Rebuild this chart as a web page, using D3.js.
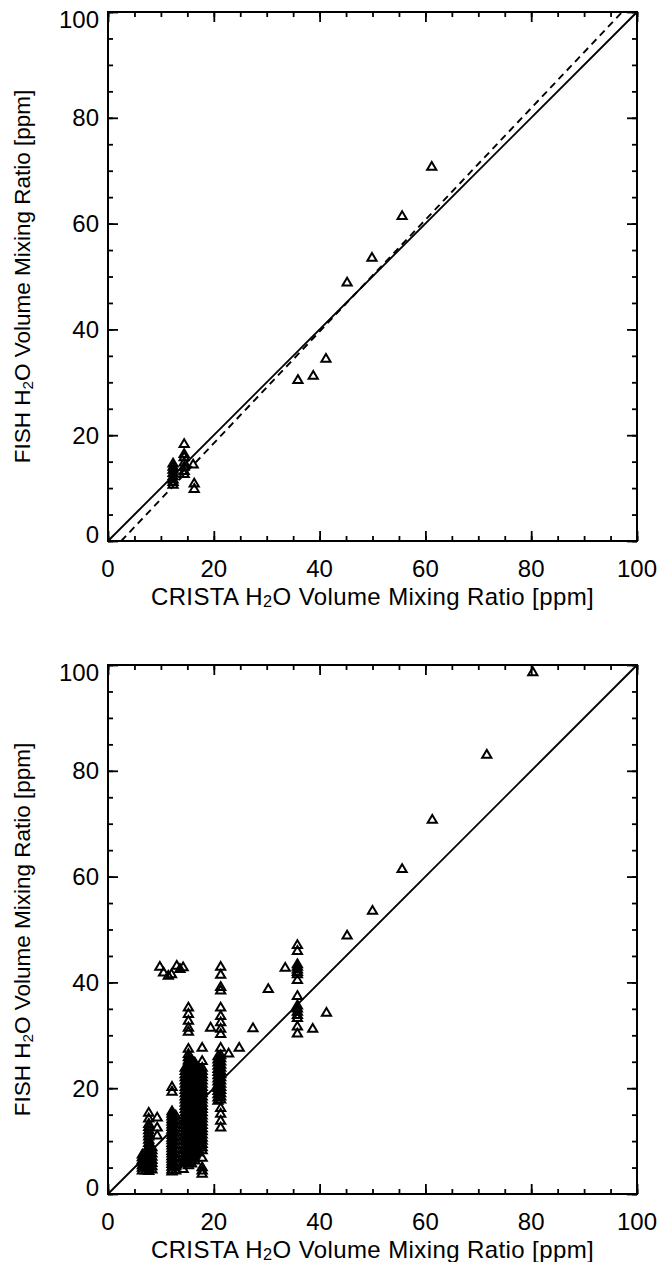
<!DOCTYPE html>
<html><head><meta charset="utf-8">
<script src="https://cdn.jsdelivr.net/npm/d3@7"></script>
<style>
body{margin:0;background:#fff}
svg{display:block}
text{font-family:"Liberation Sans",Arial,Helvetica,sans-serif;fill:#000}
</style>
</head><body>
<svg id="chart" width="670" height="1262"></svg>
<script>
// ---------- axis ticks ----------
const majorTicks = [0, 20, 40, 60, 80, 100];
const minorTicks = [0,5,10,15,20,25,30,35,40,45,50,55,60,65,70,75,80,85,90,95,100];
const tickLabels = ["0", "20", "40", "60", "80", "100"];

// ---------- top panel data ----------
const topCrista = [12.3,12.3,12.3,12.3,12.3,12.3,12.3,12.3,
                   14.4,14.4,14.4,14.4,14.4,14.4,14.4,
                   16.1,16.3,16.3,
                   35.9,38.8,41.2,45.2,49.9,55.6,61.2];
const topFish   = [14.8,14.2,13.6,13.0,12.4,11.8,11.3,10.8,
                   18.5,16.6,16.0,15.0,14.2,13.4,12.8,
                   14.6,11.0,10.0,
                   30.6,31.4,34.6,49.0,53.7,61.6,70.9];
// regression line endpoints (dashed)
const fitX = [2.5, 97.2];
const fitY = [0, 100];
// 1:1 line
const oneX = [0, 100];
const oneY = [0, 100];

// ---------- bottom panel data ----------
const bottomColumnsX = [6.5, 7.1, 7.7, 8.3, 9.3, 12.1, 12.8, 14.2, 14.6, 15.2, 15.8, 16.4, 17.1, 17.8, 20.8, 21.3, 35.8];
const bottomColumnsY = [
  [7.6,7.1,6.6,6.1,5.6,5.1,4.6],
  [7.0,6.4,5.8,5.2,4.6],
  [15.5,14.4,13.4,12.8,12.2,11.6,11.0,10.4,9.8,9.2,8.6,8.0,7.4,6.8,6.2,5.6,5.0,4.5],
  [9.0,8.4,7.8,7.2,6.6,6.0,5.4,4.8],
  [14.6,12.7,11.2],
  [20.4,19.5,15.8,15.3,14.8,14.3,13.8,13.3,12.8,12.3,11.8,11.3,10.8,10.3,9.8,9.3,8.8,8.3,7.8,7.3,6.8,6.3,5.8,5.3,4.8,4.4],
  [15.0,14.2,13.4,12.6,11.8,11.0,10.2,9.4,8.6,7.8,7.0,6.2,5.4,4.6],
  [7.0,5.9,4.9],
  [24.0,23.4,22.8,22.2,21.6,21.0,20.4,19.8,19.2,18.6,18.0,17.4,16.8,16.2,15.6,15.0,14.4,13.8,13.2,12.6,12.0,11.4,10.8,10.2,9.6,9.0,8.4,7.8,7.2,6.6,6.0],
  [35.4,34.2,32.9,31.6,30.8,27.6,26.6,26.0,25.4,24.8,24.2,23.6,23.0,22.4,21.8,21.2,20.6,20.0,19.4,18.8,18.2,17.6,17.0,16.4,15.8,15.2,14.6,14.0,13.4,12.8,12.2,11.6,11.0,10.4,9.8,9.2,8.6,8.0,7.4,6.8,6.2,5.6],
  [25.5,24.8,24.1,23.4,22.7,22.0,21.3,20.6,19.9,19.2,18.5,17.8,17.1,16.4,15.7,15.0,14.3,13.6,12.9,12.2,11.5,10.8,10.1,9.4,8.7,8.0,7.3,6.6,5.9],
  [25.0,24.4,23.8,23.2,22.6,22.0,21.4,20.8,20.2,19.6,19.0,18.4,17.8,17.2,16.6,16.0,15.4,14.8,14.2,13.6,13.0,12.4,11.8,11.2,10.6,10.0,9.4,8.8,8.2,7.6,7.0,6.5],
  [24.0,23.3,22.6,21.9,21.2,20.5,19.8,19.1,18.4,17.7,17.0,16.3,15.6,14.9,14.2,13.5,12.8,12.1,11.4,10.7,10.0,9.3,8.6,8.0],
  [27.8,25.3,24.0,23.4,22.8,22.2,21.6,21.0,20.4,19.8,19.2,18.6,18.0,17.4,16.8,16.2,15.6,15.0,14.4,13.8,13.2,12.6,12.0,11.4,10.8,10.2,9.6,9.0,8.4,7.0,5.2,4.6,4.0],
  [26.2,25.6,25.0,24.4,23.8,23.2,22.6,22.0,21.4,20.8,20.2,19.6,19.0,18.4,17.8],
  [43.1,41.6,39.3,38.6,35.4,33.8,32.6,31.4,30.4,27.8,26.4,25.8,25.2,24.6,24.0,23.4,22.8,22.2,21.6,21.0,20.4,19.8,19.2,18.6,18.0,16.4,15.3,14.0,12.7],
  [47.2,46.1,43.6,43.1,42.6,42.1,41.7,40.6,37.6,35.8,35.2,34.6,34.0,33.4,31.8,30.5]
];
const bottomSparseX = [9.8,10.5,11.4,12.0,13.0,13.6,14.2,19.4,22.8,24.8,27.4,30.3,33.5,38.7,41.3,45.2,50.0,55.6,61.3,71.6,80.3];
const bottomSparseY = [43.1,42.0,41.4,41.7,43.3,42.7,43.0,31.6,26.7,27.8,31.5,38.9,42.9,31.4,34.4,49.0,53.7,61.6,70.9,83.2,98.8];

const xTitle = "CRISTA";
const yTitle = "FISH";

// ---------- build point lists ----------
const topPoints = topCrista.map((c, i) => [c, topFish[i]]);
const bottomPoints = [];
bottomColumnsX.forEach((c, i) => bottomColumnsY[i].forEach(f => bottomPoints.push([c, f])));
bottomSparseX.forEach((c, i) => bottomPoints.push([c, bottomSparseY[i]]));

const svg = d3.select("#chart");
const TICKFONT = 24;

function addTitle(sel, name, size) {
  sel.append("tspan").text(name + " H");
  sel.append("tspan").attr("font-size", size * 0.68).attr("dy", 5).text("2");
  sel.append("tspan").attr("dy", -5).text("O Volume Mixing Ratio [ppm]");
}

function panel(top, bottom, points, lines) {
  const x = d3.scaleLinear().domain([0, 100]).range([108, 637]);
  const y = d3.scaleLinear().domain([0, 100]).range([bottom, top]);
  const g = svg.append("g");

  // lines
  lines.forEach(L => {
    g.append("path")
      .attr("d", d3.line().x(d => x(d[0])).y(d => y(d[1]))(L.xs.map((v, i) => [v, L.ys[i]])))
      .attr("fill", "none").attr("stroke", "#000").attr("stroke-width", 1.9)
      .attr("stroke-dasharray", L.dash || null);
  });

  // markers
  g.append("g").selectAll("path").data(points).join("path")
    .attr("transform", d => `translate(${x(d[0])},${y(d[1])})`)
    .attr("d", "M0,-4L4.6,3.8L-4.6,3.8Z")
    .attr("fill", "none").attr("stroke", "#000").attr("stroke-width", 2)
    .attr("stroke-linejoin", "miter");

  // axes ticks (inward, on all four sides)
  const axes = [
    [d3.axisBottom(x), `translate(0,${bottom})`],
    [d3.axisTop(x), `translate(0,${top})`],
    [d3.axisLeft(y), `translate(108,0)`],
    [d3.axisRight(y), `translate(637,0)`]
  ];
  axes.forEach(([ax, tr]) => {
    const a1 = g.append("g").attr("transform", tr)
      .call(ax.tickValues(minorTicks).tickSize(-5).tickSizeOuter(0).tickFormat(""));
    a1.select(".domain").remove();
    a1.selectAll("line").attr("stroke-width", 1.8);
    const a2 = g.append("g").attr("transform", tr)
      .call(ax.tickValues(majorTicks).tickSize(-10).tickSizeOuter(0).tickFormat(""));
    a2.select(".domain").remove();
    a2.selectAll("line").attr("stroke-width", 1.8);
  });

  // frame
  g.append("rect").attr("x", 108).attr("y", top).attr("width", 637 - 108).attr("height", bottom - top)
    .attr("fill", "none").attr("stroke", "#000").attr("stroke-width", 2);

  // x tick labels
  g.append("g").selectAll("text").data(majorTicks).join("text")
    .attr("x", d => x(d)).attr("y", bottom + 27)
    .attr("text-anchor", "middle").attr("dominant-baseline", "central")
    .attr("font-size", TICKFONT).text((d, i) => tickLabels[i]);

  // y tick labels
  g.append("g").selectAll("text").data(majorTicks).join("text")
    .attr("x", 99)
    .attr("y", d => y(d) + (d === 100 ? 7 : d === 0 ? -7 : 0))
    .attr("text-anchor", "end").attr("dominant-baseline", "central")
    .attr("font-size", TICKFONT).text((d, i) => tickLabels[i]);

  // x title
  const xt = g.append("text").attr("x", (108 + 637) / 2).attr("y", bottom + 55)
    .attr("text-anchor", "middle").attr("dominant-baseline", "central")
    .attr("font-size", 24).attr("letter-spacing", 0.4);
  addTitle(xt, xTitle, 24);

  // y title
  const yt = g.append("text")
    .attr("transform", `translate(22,${(top + bottom) / 2}) rotate(-90)`)
    .attr("text-anchor", "middle").attr("dominant-baseline", "central")
    .attr("font-size", 22.5);
  addTitle(yt, yTitle, 22.5);
}

panel(12, 541, topPoints, [
  { xs: oneX, ys: oneY },
  { xs: fitX, ys: fitY, dash: "7,5" }
]);
panel(665, 1194, bottomPoints, [
  { xs: oneX, ys: oneY }
]);
</script>
</body></html>
